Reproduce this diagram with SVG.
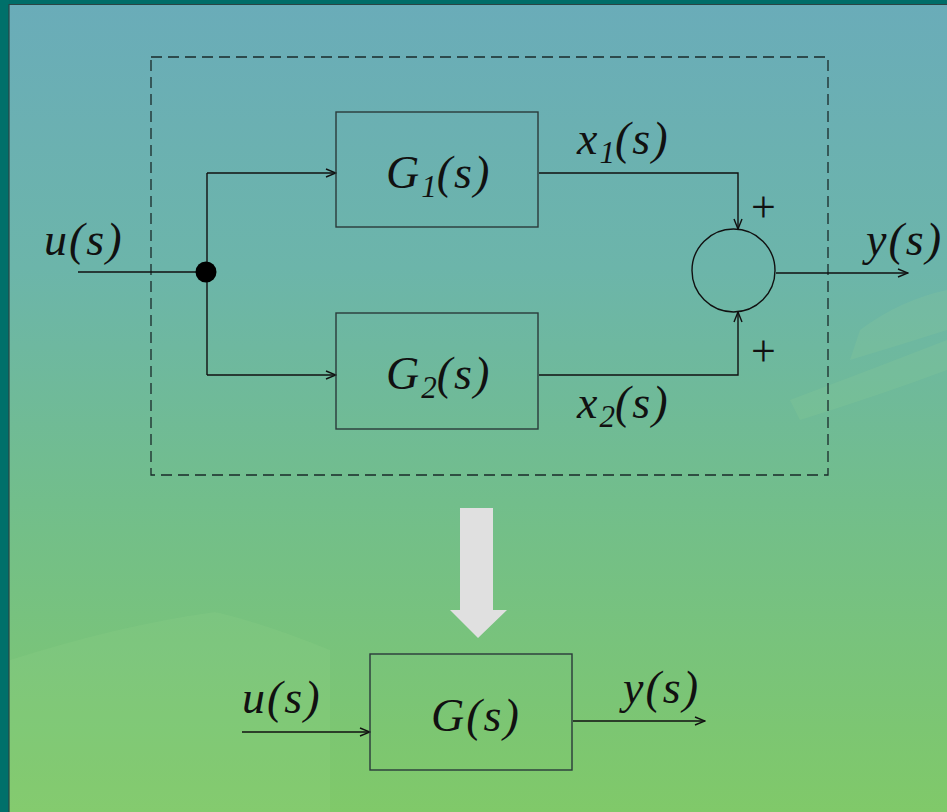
<svg xmlns="http://www.w3.org/2000/svg" width="947" height="812" viewBox="0 0 947 812">
  <defs>
    <linearGradient id="bg" x1="0" y1="0" x2="0" y2="1">
      <stop offset="0" stop-color="#6aacb9"/>
      <stop offset="0.33" stop-color="#6cb5aa"/>
      <stop offset="0.62" stop-color="#72be8b"/>
      <stop offset="1" stop-color="#80c969"/>
    </linearGradient>
    <marker id="arr" viewBox="0 0 12 10" refX="11" refY="5" markerWidth="12" markerHeight="10" markerUnits="userSpaceOnUse" orient="auto">
      <path d="M1,1 L11,5 L1,9" fill="none" stroke="#111" stroke-width="1.4"/>
    </marker>
    <style>
      .ln { fill: none; stroke: #111; stroke-width: 1.4; }
      .box { fill: none; stroke: #2a3a3a; stroke-width: 1.4; }
      .lbl { font-family: "Times New Roman", "Liberation Serif", "DejaVu Serif", serif; font-style: italic; font-size: 46px; fill: #111; letter-spacing: 2px; }
      .sub { font-size: 31px; letter-spacing: 0; }
      .plus { font-family: "Times New Roman", "Liberation Serif", "DejaVu Serif", serif; font-size: 44px; fill: #111; }
    </style>
  </defs>

  <!-- background -->
  <rect x="0" y="0" width="947" height="812" fill="url(#bg)"/>
  <g fill="#a6dc94" opacity="0.12">
    <path d="M10,660 Q120,625 215,612 Q260,622 330,650 L330,812 L10,812 Z"/>
    <path d="M860,330 Q900,300 947,290 L947,330 Q900,345 850,360 Z"/>
    <path d="M790,400 Q870,370 947,340 L947,370 Q880,395 800,420 Z"/>
  </g>
  <rect x="0" y="0" width="947" height="4" fill="#006d68"/>
  <rect x="0" y="0" width="9" height="812" fill="#00706a"/>
  <path d="M9,812 V4.5 H947" fill="none" stroke="#2a4444" stroke-width="1.2"/>

  <!-- subsystem boundary -->
  <rect x="151" y="57" width="677" height="418" fill="none" stroke="#1a2a2a" stroke-width="1.3" stroke-dasharray="11 6"/>

  <!-- connectors -->
  <g id="connectors">
    <line class="ln" x1="78" y1="272" x2="206" y2="272"/>
    <line class="ln" x1="207" y1="173" x2="207" y2="375"/>
    <line class="ln" x1="207" y1="173" x2="336" y2="173" marker-end="url(#arr)"/>
    <line class="ln" x1="207" y1="375" x2="336" y2="375" marker-end="url(#arr)"/>
    <polyline class="ln" points="539,173 738,173 738,229" marker-end="url(#arr)"/>
    <polyline class="ln" points="539,375 738,375 738,312" marker-end="url(#arr)"/>
    <line class="ln" x1="776" y1="273" x2="908" y2="273" marker-end="url(#arr)"/>
    <line class="ln" x1="242" y1="732" x2="370" y2="732" marker-end="url(#arr)"/>
    <line class="ln" x1="573" y1="721" x2="705" y2="721" marker-end="url(#arr)"/>
  </g>

  <!-- branch point -->
  <g id="junction">
    <circle cx="206" cy="272" r="10.5" fill="#000"/>
  </g>

  <!-- G1 block -->
  <g id="g1">
    <rect class="box" x="336" y="112" width="202" height="115"/>
    <text class="lbl" x="386" y="188">G<tspan class="sub" dy="9">1</tspan><tspan dy="-9">(s)</tspan></text>
  </g>

  <!-- G2 block -->
  <g id="g2">
    <rect class="box" x="336" y="313" width="202" height="116"/>
    <text class="lbl" x="386" y="389">G<tspan class="sub" dy="9">2</tspan><tspan dy="-9">(s)</tspan></text>
  </g>

  <!-- summing junction -->
  <g id="sum">
    <circle cx="733.5" cy="270.5" r="41.5" fill="none" stroke="#111" stroke-width="1.4"/>
    <text class="plus" x="751" y="222">+</text>
    <text class="plus" x="751" y="366">+</text>
  </g>

  <!-- signal labels -->
  <g id="labels">
    <text class="lbl" x="44" y="255">u(s)</text>
    <text class="lbl" x="577" y="154">x<tspan class="sub" dy="9">1</tspan><tspan dy="-9">(s)</tspan></text>
    <text class="lbl" x="577" y="418">x<tspan class="sub" dy="9">2</tspan><tspan dy="-9">(s)</tspan></text>
    <text class="lbl" x="866" y="255">y(s)</text>
  </g>

  <!-- reduction arrow -->
  <g id="reduce">
    <path d="M460,508 H493 V610 H507 L478,638 L450,610 H460 Z" fill="#e0e0e0"/>
  </g>

  <!-- equivalent block -->
  <g id="g">
    <rect class="box" x="370" y="654" width="202" height="116"/>
    <text class="lbl" x="431" y="731">G(s)</text>
  </g>
  <g id="labels-eq">
    <text class="lbl" x="242" y="713">u(s)</text>
    <text class="lbl" x="623" y="703">y(s)</text>
  </g>
</svg>
